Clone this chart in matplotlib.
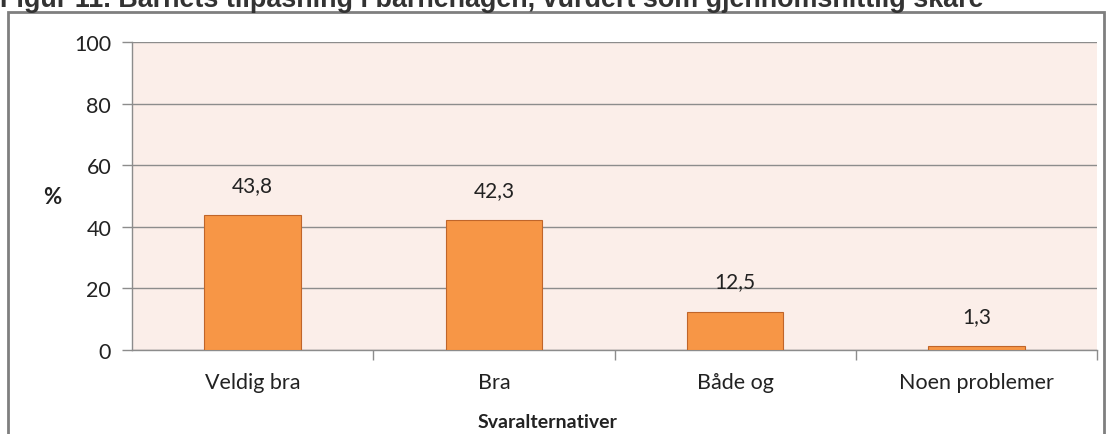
import matplotlib
matplotlib.use("Agg")
import matplotlib.pyplot as plt
from matplotlib.patches import Rectangle

categories = ["Veldig bra", "Bra", "Både og", "Noen problemer"]
values = [43.8, 42.3, 12.5, 1.3]
yticks = [0, 20, 40, 60, 80, 100]
title = "Figur 11. Barnets tilpasning i barnehagen, vurdert som gjennomsnittlig skåre"

W, H = 1109, 435
fig = plt.figure(figsize=(W / 100, H / 100), dpi=100)
fig.patch.set_facecolor("white")

# outer frame
fig.add_artist(Rectangle((8 / W, -0.01), (1104 - 8) / W, 1 - 13 / H + 0.01,
                         transform=fig.transFigure, fill=False,
                         edgecolor="#7F7F7F", linewidth=2))

fig.text(0.0, 1 - 7 / H, title, ha="left", va="baseline",
         fontfamily="Liberation Sans", fontweight="bold", fontsize=19.4,
         color="#333333")

ax = fig.add_axes([132 / W, 1 - 351 / H, (1097 - 132) / W, (351 - 43) / H])
ax.set_facecolor("#FBEEE9")
x = list(range(len(categories)))
ax.bar(x, values, width=0.4, color="#F79646", edgecolor="#C0652A", linewidth=0.8, zorder=3)
for xi, v in zip(x, values):
    ax.text(xi, v + 6.5, f"{v:.1f}".replace(".", ","), ha="center", va="bottom",
            fontfamily="Lato", fontsize=15, color="#222222")

ax.set_xlim(-0.5, len(categories) - 0.5)
ax.set_ylim(0, 100)
ax.set_yticks(yticks)
ax.set_yticklabels([str(t) for t in yticks], fontfamily="Lato", fontsize=15.5, color="#222222")
ax.yaxis.grid(True, color="#8C8C8C", linewidth=1, zorder=0)
ax.set_axisbelow(True)

ax.set_xticks(x)
ax.set_xticklabels(categories, fontfamily="Lato", fontsize=15.5, color="#222222")
ax.set_xticks([i + 0.5 for i in range(len(categories))], minor=True)
ax.tick_params(axis="x", which="major", length=0, pad=16)
ax.tick_params(axis="x", which="minor", length=7, color="#8C8C8C", width=1)
ax.tick_params(axis="y", length=7, color="#8C8C8C", width=1, pad=8)

for s in ["top", "right"]:
    ax.spines[s].set_visible(False)
for s in ["left", "bottom"]:
    ax.spines[s].set_color("#8C8C8C")
    ax.spines[s].set_linewidth(1)

fig.text(43 / W, 1 - 198 / H, "%", ha="left", va="center",
         fontfamily="Lato", fontweight="bold", fontsize=16, color="#222222")
fig.text(548 / W, 1 - 423 / H, "Svaralternativer", ha="center", va="center",
         fontfamily="Lato", fontweight="bold", fontsize=14, color="#222222")

fig.savefig("out.png", dpi=100)
